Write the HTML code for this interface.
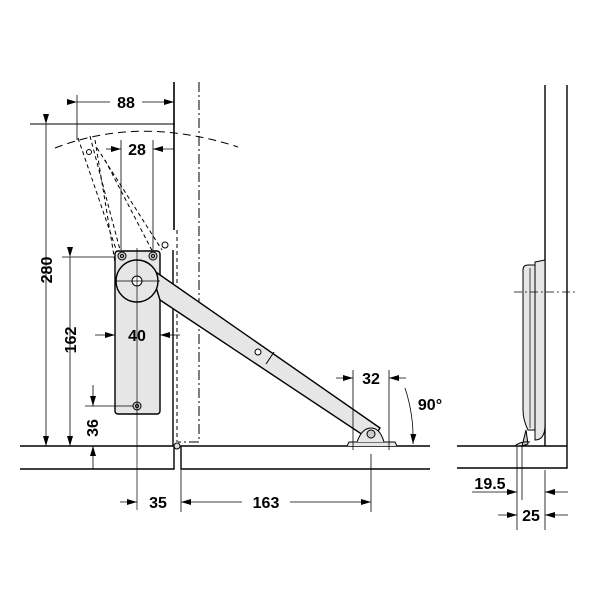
<!DOCTYPE html>
<html><head><style>html,body{margin:0;padding:0;background:#fff}svg{display:block}</style></head>
<body>
<svg width="600" height="600" viewBox="0 0 600 600" xmlns="http://www.w3.org/2000/svg" font-family="Liberation Sans, sans-serif" font-weight="bold">
<defs>
<marker id="a" viewBox="0 0 10 6" refX="10" refY="3" markerWidth="10" markerHeight="6" orient="auto" markerUnits="userSpaceOnUse"><path d="M0,0L10,3L0,6z" fill="#000"/></marker>
</defs>
<g stroke="#000" fill="none" stroke-width="1">
<path d="M20,446H174V469H20" stroke-width="1.4"/>
<path d="M430,446H181V469H430" stroke-width="1.4"/>
<line x1="174" y1="82" x2="174" y2="230" stroke-width="1.6"/>
<line x1="177" y1="230" x2="177" y2="442" stroke-dasharray="4,3"/>
<line x1="173" y1="250" x2="173" y2="446" stroke-width="1.4"/>
<path d="M199,82V442H178" stroke-dasharray="10,3,2,3"/>
<circle cx="177" cy="446" r="3" fill="#ddd"/>
<path d="M55,148 Q140,115 238,147" stroke-dasharray="8,5"/>
<line x1="30" y1="124" x2="175" y2="124"/>
<path d="M78,138 L117,252 M90,136 L120,250 M97,148 L162,250 M105,160 L158,262 M95,140 L115,262" stroke-dasharray="4,3"/>
<circle cx="89" cy="152" r="2.5"/>
<circle cx="165" cy="245" r="3"/>
<rect x="115" y="251" width="45" height="163" rx="3" fill="#e6e6e6" stroke-width="1.4"/>
<path d="M150,268 L380,428 L372,441 L160,300 Z" fill="#e6e6e6" stroke-width="1.4"/>
<line x1="266" y1="364" x2="274" y2="352"/>
<circle cx="258" cy="352" r="3" fill="#fff"/>
<path d="M347,446 L349,442 L395,442 L397,446" fill="#e6e6e6"/>
<path d="M357,442 Q362,428 371,428 Q380,428 384,442" fill="#e6e6e6"/>
<circle cx="371" cy="434" r="4" fill="#ccc"/>
<circle cx="137" cy="281" r="21" fill="#e6e6e6" stroke-width="1.4"/>
<circle cx="137" cy="281" r="5" fill="#fff"/>
<circle cx="122" cy="256" r="4" fill="#ccc"/><circle cx="122" cy="256" r="1.5"/>
<circle cx="153" cy="256" r="4" fill="#ccc"/><circle cx="153" cy="256" r="1.5"/>
<circle cx="137" cy="406" r="4" fill="#ccc"/><circle cx="137" cy="406" r="1.5"/>
<line x1="137" y1="248" x2="137" y2="510" stroke-width="0.7"/>
<line x1="115" y1="281" x2="160" y2="281" stroke-width="0.7"/>
<g stroke-width="0.8">
<line x1="46" y1="124" x2="46" y2="446" marker-start="url(#a)" marker-end="url(#a)"/>
<line x1="62" y1="257" x2="115" y2="257"/>
<line x1="70" y1="257" x2="70" y2="446" marker-start="url(#a)" marker-end="url(#a)"/>
<line x1="85" y1="406" x2="133" y2="406"/>
<line x1="93" y1="385" x2="93" y2="406" marker-end="url(#a)"/>
<line x1="93" y1="469" x2="93" y2="446" marker-end="url(#a)"/>
<line x1="77" y1="95" x2="77" y2="140"/>
<line x1="77" y1="102" x2="110" y2="102" marker-start="url(#a)"/>
<line x1="142" y1="102" x2="174" y2="102" marker-end="url(#a)"/>
<line x1="121" y1="140" x2="121" y2="250"/><line x1="153" y1="140" x2="153" y2="250"/>
<line x1="106" y1="149" x2="121" y2="149" marker-end="url(#a)"/>
<line x1="174" y1="149" x2="153" y2="149" marker-end="url(#a)"/>
<line x1="95" y1="335" x2="115" y2="335" marker-end="url(#a)"/>
<line x1="180" y1="335" x2="160" y2="335" marker-end="url(#a)"/>
<line x1="181" y1="470" x2="181" y2="512"/>
<line x1="371" y1="454" x2="371" y2="512"/>
<line x1="120" y1="502" x2="137" y2="502" marker-end="url(#a)"/>
<line x1="242" y1="502" x2="181" y2="502" marker-end="url(#a)"/>
<line x1="290" y1="502" x2="371" y2="502" marker-end="url(#a)"/>
<line x1="353" y1="370" x2="353" y2="450"/><line x1="389" y1="370" x2="389" y2="450"/>
<line x1="336" y1="378" x2="353" y2="378" marker-end="url(#a)"/>
<line x1="406" y1="378" x2="389" y2="378" marker-end="url(#a)"/>
<path d="M405,388 Q414,415 413,444" marker-end="url(#a)"/>
</g>
<line x1="545" y1="85" x2="545" y2="446" stroke-width="1.4"/>
<path d="M567,85V468H457M457,446H567" stroke-width="1.4"/>
<path d="M535,262 L545,260 V425 Q545,440 535,440 Z" fill="#e6e6e6"/>
<path d="M523,270 Q523,265 528,265 L535,265 V430 L528,430 Q523,420 523,410 Z" fill="#e6e6e6"/>
<line x1="530" y1="268" x2="530" y2="428" stroke-width="0.7"/>
<line x1="514" y1="292" x2="575" y2="292" stroke-dasharray="8,3,2,3" stroke-width="0.7"/>
<path d="M526,430 L528,444 L522,446 Z M515,446 Q520,441 530,442" fill="#ccc"/>
<g stroke-width="0.8">
<line x1="517" y1="446" x2="517" y2="530"/><line x1="522" y1="446" x2="522" y2="500"/>
<line x1="545" y1="470" x2="545" y2="530"/>
<line x1="472" y1="492" x2="517" y2="492" marker-end="url(#a)"/>
<line x1="568" y1="492" x2="545" y2="492" marker-end="url(#a)"/>
<line x1="498" y1="515" x2="517" y2="515" marker-end="url(#a)"/>
<line x1="568" y1="515" x2="545" y2="515" marker-end="url(#a)"/>
</g>
</g>
<g font-size="16" fill="#000" text-anchor="middle">
<text x="126" y="108">88</text>
<text x="137" y="155">28</text>
<text x="137" y="341">40</text>
<text x="158" y="508">35</text>
<text x="266" y="508">163</text>
<text x="371" y="384">32</text>
<text x="430" y="410">90°</text>
<text x="490" y="489">19.5</text>
<text x="531" y="521">25</text>
<text transform="translate(52,270) rotate(-90)">280</text>
<text transform="translate(76,340) rotate(-90)">162</text>
<text transform="translate(98,428) rotate(-90)">36</text>
</g>
</svg>
</body></html>
